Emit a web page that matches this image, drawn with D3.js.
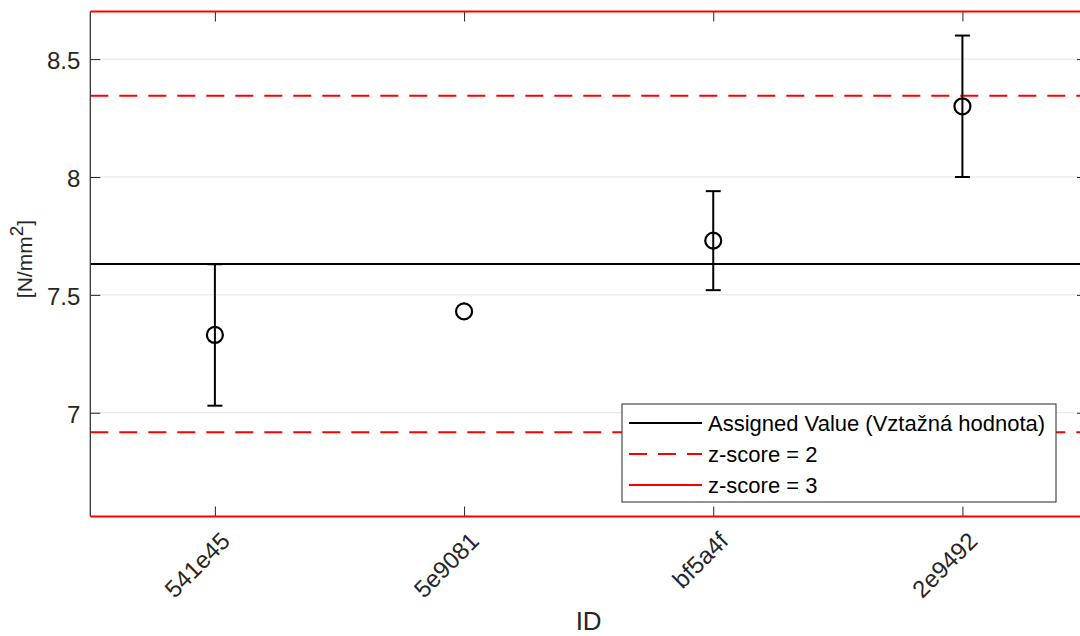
<!DOCTYPE html>
<html>
<head>
<meta charset="utf-8">
<script src="https://cdn.jsdelivr.net/npm/d3@7"></script>
<style>
  html, body { margin: 0; padding: 0; background: #fff; }
  svg { display: block; font-family: "Liberation Sans", Arial, Helvetica, sans-serif; }
</style>
</head>
<body>
<svg id="chart" width="1080" height="636"></svg>
<script>
// Participant results
const ids = ["541e45", "5e9081", "bf5a4f", "2e9492"];
const results = [7.33, 7.43, 7.73, 8.30];
const uncertainties = [0.30, null, 0.21, 0.30];

// Reference values
const assignedValue = 7.631;
const sigma = 0.357;
const zLevels = [2, 3];

const yTicks = [7, 7.5, 8, 8.5];
const legendLabels = ["Assigned Value (Vztažná hodnota)", "z-score = 2", "z-score = 3"];

const svg = d3.select("#chart");
const plotLeft = 90.3, plotRight = 1087, plotTop = 11.5, plotBottom = 516.5;
const axisColor = "#262626";
const tickFont = 24, legendFont = 22, labelFont = 26;
const fontFamily = "Liberation Sans, Arial, sans-serif";

const x = d3.scaleLinear().domain([0.5, ids.length + 0.5]).range([plotLeft, plotRight]);
const y = d3.scaleLinear()
  .domain([assignedValue - 3 * sigma, assignedValue + 3 * sigma])
  .range([plotBottom, plotTop]);

// Grid
svg.append("g").selectAll("line").data(yTicks).join("line")
  .attr("x1", plotLeft).attr("x2", plotRight)
  .attr("y1", d => y(d)).attr("y2", d => y(d))
  .attr("stroke", "#e3e3e3").attr("stroke-width", 1);

// Assigned value and z = 2 lines
const refLines = [
  { v: assignedValue, color: "#000", dash: null },
  { v: assignedValue + zLevels[0] * sigma, color: "#ff0000", dash: "18,11" },
  { v: assignedValue - zLevels[0] * sigma, color: "#ff0000", dash: "18,11" },
];
svg.append("g").selectAll("line").data(refLines).join("line")
  .attr("x1", plotLeft).attr("x2", plotRight)
  .attr("y1", d => y(d.v)).attr("y2", d => y(d.v))
  .attr("stroke", d => d.color).attr("stroke-width", 2)
  .attr("stroke-dasharray", d => d.dash);

// Axes (box with inward ticks)
const yAxisL = d3.axisLeft(y).tickValues(yTicks).tickSize(-10).tickPadding(10)
  .tickFormat(d3.format("~g"));
const gy = svg.append("g").attr("transform", `translate(${plotLeft},0)`).call(yAxisL);
gy.select(".domain").remove();
gy.selectAll("line").attr("stroke", axisColor);
gy.selectAll("text").attr("fill", axisColor).attr("font-size", tickFont)
  .attr("font-family", fontFamily).attr("dy", "0.4em");

const gyR = svg.append("g").attr("transform", `translate(${plotRight},0)`)
  .call(d3.axisRight(y).tickValues(yTicks).tickSize(-10).tickFormat(""));
gyR.select(".domain").remove();
gyR.selectAll("line").attr("stroke", axisColor);

const ticksX = d3.range(1, ids.length + 1);
const gx = svg.append("g").attr("transform", `translate(0,${plotBottom})`)
  .call(d3.axisBottom(x).tickValues(ticksX).tickSize(-10).tickFormat(i => ids[i - 1]));
gx.select(".domain").remove();
gx.selectAll("line").attr("stroke", axisColor);
gx.selectAll("text")
  .attr("fill", axisColor).attr("font-size", tickFont)
  .attr("font-family", fontFamily)
  .attr("text-anchor", "end")
  .attr("dy", null).attr("y", null)
  .attr("transform", "translate(16,26) rotate(-45)");

const gxT = svg.append("g").attr("transform", `translate(0,${plotTop})`)
  .call(d3.axisTop(x).tickValues(ticksX).tickSize(-10).tickFormat(""));
gxT.select(".domain").remove();
gxT.selectAll("line").attr("stroke", axisColor);

svg.append("line").attr("x1", plotLeft).attr("x2", plotLeft).attr("y1", plotTop).attr("y2", plotBottom)
  .attr("stroke", axisColor).attr("stroke-width", 1.2);

// z = 3 lines at the axis limits
svg.append("g").selectAll("line")
  .data([assignedValue + zLevels[1] * sigma, assignedValue - zLevels[1] * sigma]).join("line")
  .attr("x1", plotLeft).attr("x2", plotRight)
  .attr("y1", d => y(d)).attr("y2", d => y(d))
  .attr("stroke", "#ff0000").attr("stroke-width", 2);

// Error bars and markers
const pts = ids.map((id, i) => ({ i: i + 1, v: results[i], u: uncertainties[i] }));
const eb = svg.append("g").attr("stroke", "#000").attr("stroke-width", 2).attr("fill", "none");
pts.filter(d => d.u != null).forEach(d => {
  const cx = x(d.i);
  eb.append("line").attr("x1", cx).attr("x2", cx).attr("y1", y(d.v - d.u)).attr("y2", y(d.v + d.u));
  eb.append("line").attr("x1", cx - 7.5).attr("x2", cx + 7.5).attr("y1", y(d.v - d.u)).attr("y2", y(d.v - d.u));
  eb.append("line").attr("x1", cx - 7.5).attr("x2", cx + 7.5).attr("y1", y(d.v + d.u)).attr("y2", y(d.v + d.u));
});
svg.append("g").selectAll("circle").data(pts).join("circle")
  .attr("cx", d => x(d.i)).attr("cy", d => y(d.v)).attr("r", 8)
  .attr("fill", "none").attr("stroke", "#000").attr("stroke-width", 2.2);

// Axis labels
const yl = svg.append("text")
  .attr("transform", `translate(32,259) rotate(-90)`)
  .attr("text-anchor", "middle").attr("font-size", 21).attr("fill", axisColor);
yl.append("tspan").text("[N/mm");
yl.append("tspan").attr("dy", -9).attr("font-size", 19).text("2");
yl.append("tspan").attr("dy", 9).text("]");

svg.append("text").attr("x", (plotLeft + plotRight) / 2).attr("y", 630)
  .attr("text-anchor", "middle").attr("font-size", labelFont).attr("fill", axisColor).text("ID");

// Legend
const lg = svg.append("g");
lg.append("rect").attr("x", 622).attr("y", 404).attr("width", 434).attr("height", 98)
  .attr("fill", "#fff").attr("stroke", axisColor).attr("stroke-width", 1);
const legendStyles = [
  { color: "#000", dash: null },
  { color: "#ff0000", dash: "18,11" },
  { color: "#ff0000", dash: null },
];
legendLabels.forEach((lab, k) => {
  const cy = 423 + k * 31;
  lg.append("line").attr("x1", 629).attr("x2", 702).attr("y1", cy).attr("y2", cy)
    .attr("stroke", legendStyles[k].color).attr("stroke-width", 2)
    .attr("stroke-dasharray", legendStyles[k].dash);
  lg.append("text").attr("x", 708).attr("y", cy + 8).attr("font-size", legendFont)
    .attr("fill", "#000").text(lab);
});
</script>
</body>
</html>
